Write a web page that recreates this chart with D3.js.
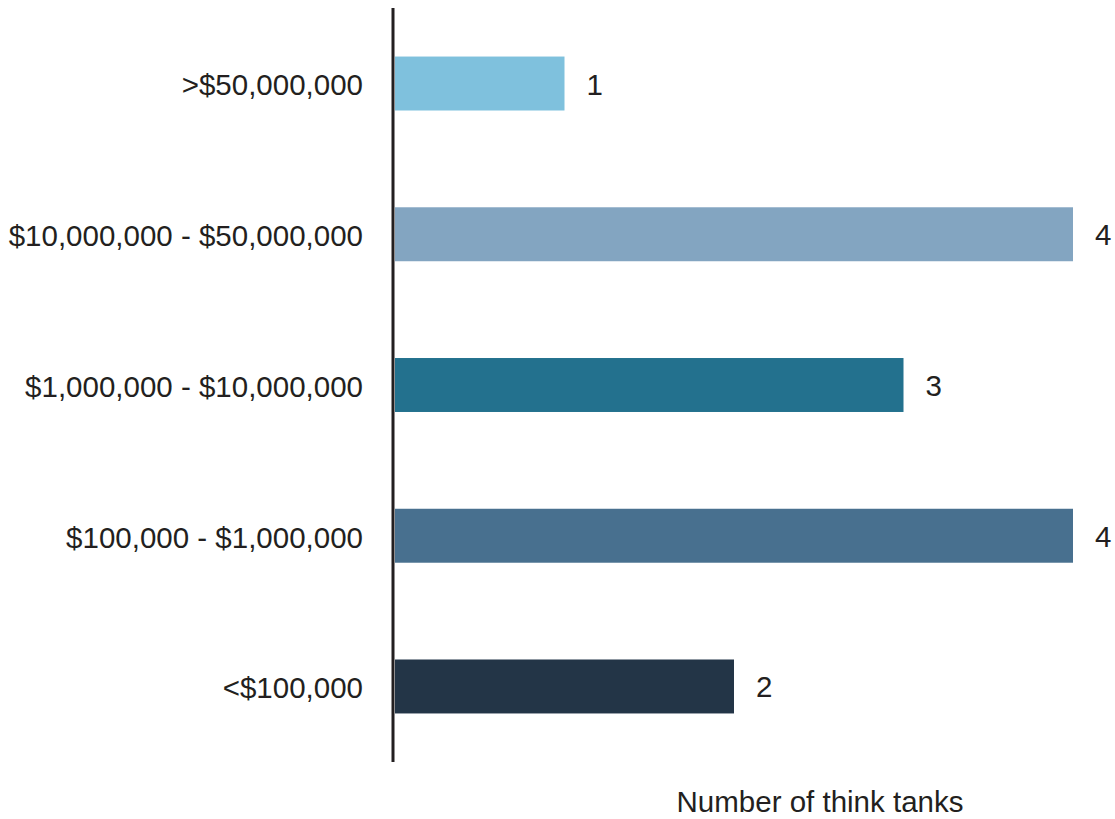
<!DOCTYPE html>
<html>
<head>
<meta charset="utf-8">
<script src="https://cdn.jsdelivr.net/npm/d3@7"></script>
<style>
  html, body { margin: 0; padding: 0; background: #fff; }
  svg text { font-family: "Liberation Sans", Arial, Helvetica, sans-serif; fill: #231f20; }
</style>
</head>
<body>
<svg id="chart" width="1115" height="819"></svg>
<script>
// Budget ranges (top to bottom) and number of think tanks in each
const categories = [">$50,000,000", "$10,000,000 - $50,000,000", "$1,000,000 - $10,000,000", "$100,000 - $1,000,000", "<$100,000"];
const counts = [1, 4, 3, 4, 2];
const barColors = ["#7fc1dd", "#83a5c1", "#23718e", "#48708f", "#233547"];
const xTitle = "Number of think tanks";

const svg = d3.select("#chart");
const axisX = 393;
const fontSize = 29.5;

const x = d3.scaleLinear().domain([0, 4]).range([395, 1073]);
const y = d3.scaleBand().domain(categories).range([8, 762])
  .paddingInner(0.642).paddingOuter(0.322);
const color = d3.scaleOrdinal().domain(categories).range(barColors);

const data = categories.map((c, i) => ({ cat: c, value: counts[i] }));

// bars
svg.append("g").selectAll("rect").data(data).join("rect")
  .attr("x", x(0))
  .attr("y", d => y(d.cat))
  .attr("width", d => x(d.value) - x(0))
  .attr("height", y.bandwidth())
  .attr("fill", d => color(d.cat));

// value labels
svg.append("g").selectAll("text").data(data).join("text")
  .attr("x", d => x(d.value) + 22)
  .attr("y", d => y(d.cat) + y.bandwidth() / 2 + 11)
  .attr("font-size", fontSize)
  .text(d => d.value);

// category axis (labels only, with a plain vertical line)
const yAxis = d3.axisLeft(y).tickSize(0).tickPadding(30);
const gy = svg.append("g").attr("transform", `translate(${axisX},0)`).call(yAxis);
gy.select(".domain").remove();
gy.selectAll("text")
  .attr("font-size", fontSize)
  .attr("font-family", "Liberation Sans, Arial, Helvetica, sans-serif")
  .attr("fill", "#231f20")
  .attr("dy", "0.4em");

svg.append("line")
  .attr("x1", axisX).attr("x2", axisX)
  .attr("y1", 8).attr("y2", 762)
  .attr("stroke", "#231f20").attr("stroke-width", 3);

// horizontal axis title
svg.append("text")
  .attr("x", 820).attr("y", 812)
  .attr("text-anchor", "middle")
  .attr("font-size", fontSize)
  .text(xTitle);
</script>
</body>
</html>
